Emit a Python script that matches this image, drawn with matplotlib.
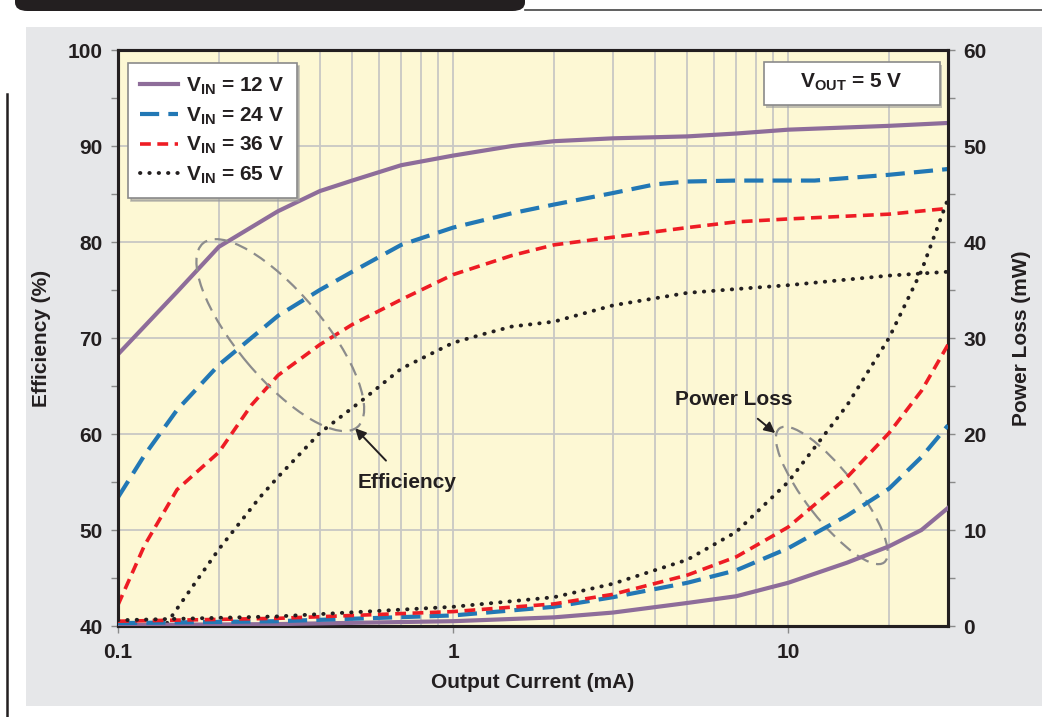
import numpy as np
import matplotlib
matplotlib.use('Agg')
import matplotlib.pyplot as plt
from matplotlib.patches import Ellipse, Rectangle, FancyBboxPatch
from matplotlib.lines import Line2D
import matplotlib.transforms as mtrans

plt.rcParams['font.family'] = ['Liberation Sans', 'DejaVu Sans']
plt.rcParams['font.weight'] = 'bold'
plt.rcParams['mathtext.fontset'] = 'custom'
plt.rcParams['mathtext.rm'] = 'Liberation Sans:bold'
plt.rcParams['mathtext.default'] = 'rm'

# efficiency (%) vs output current (mA)
cur12 = [0.1, 0.15, 0.2, 0.3, 0.4, 0.5, 0.7, 1, 1.5, 2, 3, 5, 7, 10, 20, 30]
eff12 = [68.3, 74.8, 79.5, 83.2, 85.3, 86.4, 88.0, 89.0, 90.0, 90.5, 90.8, 91.0, 91.3, 91.7, 92.1, 92.4]

cur24 = [0.1, 0.12, 0.15, 0.2, 0.3, 0.4, 0.5, 0.7, 1, 1.5, 2, 3, 4, 5, 7, 10, 12, 20, 30]
eff24 = [53.4, 57.8, 62.5, 67.2, 72.3, 75.0, 76.9, 79.7, 81.5, 83.0, 83.9, 85.1, 86.0, 86.3, 86.4, 86.4, 86.4, 87.0, 87.6]

cur36 = [0.1, 0.12, 0.15, 0.2, 0.25, 0.3, 0.4, 0.5, 0.7, 1, 1.5, 2, 3, 5, 7, 10, 20, 30]
eff36 = [42.2, 48.4, 54.2, 58.1, 63.0, 66.1, 69.3, 71.4, 74.0, 76.6, 78.6, 79.7, 80.5, 81.5, 82.1, 82.4, 82.9, 83.5]

cur65 = [0.14, 0.17, 0.2, 0.265, 0.3, 0.4, 0.535, 0.7, 1, 1.26, 1.5, 2, 3, 5, 7, 10, 20, 30]
eff65 = [40.3, 44.5, 48.0, 53.4, 55.5, 60.1, 63.5, 66.8, 69.5, 70.5, 71.2, 71.7, 73.4, 74.7, 75.1, 75.5, 76.5, 76.9]

# power loss (mW)
cur_pl = [0.1, 0.3, 1, 2, 3, 5, 7, 10, 15, 20, 25, 30]
pl12 = [0.1, 0.2, 0.5, 0.9, 1.4, 2.4, 3.1, 4.5, 6.6, 8.3, 10.0, 12.3]
pl24 = [0.3, 0.5, 1.1, 2.0, 3.0, 4.5, 5.8, 8.1, 11.5, 14.3, 17.6, 20.9]
pl36 = [0.5, 0.8, 1.5, 2.3, 3.3, 5.3, 7.2, 10.3, 15.5, 20.1, 24.5, 29.3]
pl65 = [0.6, 1.0, 2.0, 3.0, 4.4, 6.9, 9.8, 15.0, 23.0, 30.0, 37.0, 44.5]

labels = ['V$_{IN}$ = 12 V', 'V$_{IN}$ = 24 V', 'V$_{IN}$ = 36 V', 'V$_{IN}$ = 65 V']
colors = ['#8e6d9a', '#2278b5', '#ee1c24', '#231f20']
dark = '#231f20'

fig = plt.figure(figsize=(10.42, 7.17), dpi=100)
fig.patch.set_facecolor('white')

# background panel and page decorations
fig.patches.append(Rectangle((26/1042, 11/717), 1.0, 679/717, transform=fig.transFigure,
                             facecolor='#e6e7e9', edgecolor='none', zorder=-10))
fig.patches.append(FancyBboxPatch((15/1042, 706/717), 510/1042, 40/717, transform=fig.transFigure,
                                  boxstyle='round,pad=0,rounding_size=0.012',
                                  facecolor=dark, edgecolor='none', zorder=-5))
fig.lines.append(Line2D([525/1042, 1.0], [707.5/717, 707.5/717], transform=fig.transFigure,
                        color='#444444', lw=1.2))
fig.lines.append(Line2D([7/1042, 7/1042], [0, 623/717], transform=fig.transFigure,
                        color=dark, lw=1.8))

ax = fig.add_axes([118/1042, 91/717, 830/1042, 576/717])
ax.set_facecolor('#fdf8d4')
ax.set_xscale('log')
ax.set_xlim(0.1, 30)
ax.set_ylim(40, 100)

ax2 = ax.twinx()
ax2.set_ylim(0, 60)

styles = [
    dict(lw=3.0, ls='-'),
    dict(lw=3.0, ls=(0, (4.6, 2.2))),
    dict(lw=2.6, ls=(0, (3.0, 1.8))),
    dict(lw=2.8, ls=(0, (0.1, 2.3)), dash_capstyle='round'),
]
eff_x = [cur12, cur24, cur36, cur65]
eff_y = [eff12, eff24, eff36, eff65]
pl_y = [pl12, pl24, pl36, pl65]

handles = []
for i in range(4):
    h, = ax.plot(eff_x[i], eff_y[i], color=colors[i], label=labels[i], zorder=3, **styles[i])
    handles.append(h)
    ax2.plot(cur_pl, pl_y[i], color=colors[i], zorder=3, **styles[i])

# grid
ax.grid(True, which='both', axis='x', color='#c8c8c4', lw=1.3)
ax.grid(True, which='major', axis='y', color='#c8c8c4', lw=1.3)
ax.set_axisbelow(True)

ax.set_xticks([0.1, 1, 10], ['0.1', '1', '10'])
ax.set_yticks(np.arange(40, 101, 10))
ax.set_yticks(np.arange(45, 100, 10), minor=True)
ax2.set_yticks(np.arange(0, 61, 10))
ax2.set_yticks(np.arange(5, 60, 10), minor=True)

for a in (ax, ax2):
    for s in a.spines.values():
        s.set_color(dark)
        s.set_linewidth(2.2)
    a.tick_params(which='both', direction='out', length=5, width=1, color='#8a8a8a',
                  labelsize=15, labelcolor=dark, pad=6)
ax.tick_params(axis='x', which='minor', length=0)
ax.tick_params(axis='x', pad=7)
for t in ax.get_xticklabels() + ax.get_yticklabels() + ax2.get_yticklabels():
    t.set_fontweight('bold')

ax.set_xlabel('Output Current (mA)', fontsize=15, fontweight='bold', color=dark, labelpad=8)
ax.set_ylabel('Efficiency (%)', fontsize=15, fontweight='bold', color=dark, labelpad=12)
ax2.set_ylabel('Power Loss (mW)', fontsize=15, fontweight='bold', color=dark, labelpad=18)

leg = ax2.legend(handles=handles, loc='upper left', bbox_to_anchor=(0.012, 0.977),
                 fontsize=15, frameon=True, fancybox=False, handlelength=1.8,
                 handletextpad=0.4, labelspacing=0.4, borderpad=0.6, borderaxespad=0,
                 shadow={'color': '#9a9a9a', 'alpha': 0.6, 'ox': 2, 'oy': -2})
leg.get_frame().set_edgecolor('#8a8a8a')
leg.get_frame().set_linewidth(1.2)
for t in leg.get_texts():
    t.set_color(dark)

# VOUT box
bx, by, bw, bh = 0.778, 0.9045, 0.212, 0.0747
ax2.add_patch(Rectangle((bx + 0.003, by - 0.005), bw, bh, transform=ax2.transAxes,
                        facecolor='#9a9a9a', alpha=0.6, edgecolor='none', zorder=4))
ax2.add_patch(Rectangle((bx, by), bw, bh, transform=ax2.transAxes,
                        facecolor='white', edgecolor='#8a8a8a', lw=1.2, zorder=5))
ax2.text(bx + bw / 2, by + bh / 2 + 0.002, 'V$_{OUT}$ = 5 V', transform=ax2.transAxes,
         ha='center', va='center', fontsize=15, fontweight='bold', color=dark, zorder=6)

# callout ellipses (size in inches, centre in data coordinates)
def ell(xc, yc, w, h, ang):
    tr = fig.dpi_scale_trans + mtrans.ScaledTranslation(xc, yc, ax.transData)
    ax.add_patch(Ellipse((0, 0), w, h, angle=ang, transform=tr, fill=False,
                         edgecolor='#8c8c8c', lw=1.6, ls=(0, (6, 3.5)), zorder=4))

ell(0.305, 70.3, 2.4, 0.86, -50)
ell(13.5, 53.6, 1.7, 0.5, -52)

ax.annotate('Efficiency', xy=(0.51, 60.6), xytext=(0.73, 54.9), ha='center', va='center',
            fontsize=15, fontweight='bold', color=dark,
            arrowprops=dict(arrowstyle='-|>', color=dark, lw=1.4, mutation_scale=16,
                            shrinkB=0, shrinkA=10))
ax.annotate('Power Loss', xy=(9.15, 60.1), xytext=(6.9, 63.6), ha='center', va='center',
            fontsize=15, fontweight='bold', color=dark,
            arrowprops=dict(arrowstyle='-|>', color=dark, lw=1.4, mutation_scale=16,
                            shrinkB=0, shrinkA=8))

fig.savefig('out.png', dpi=100)
